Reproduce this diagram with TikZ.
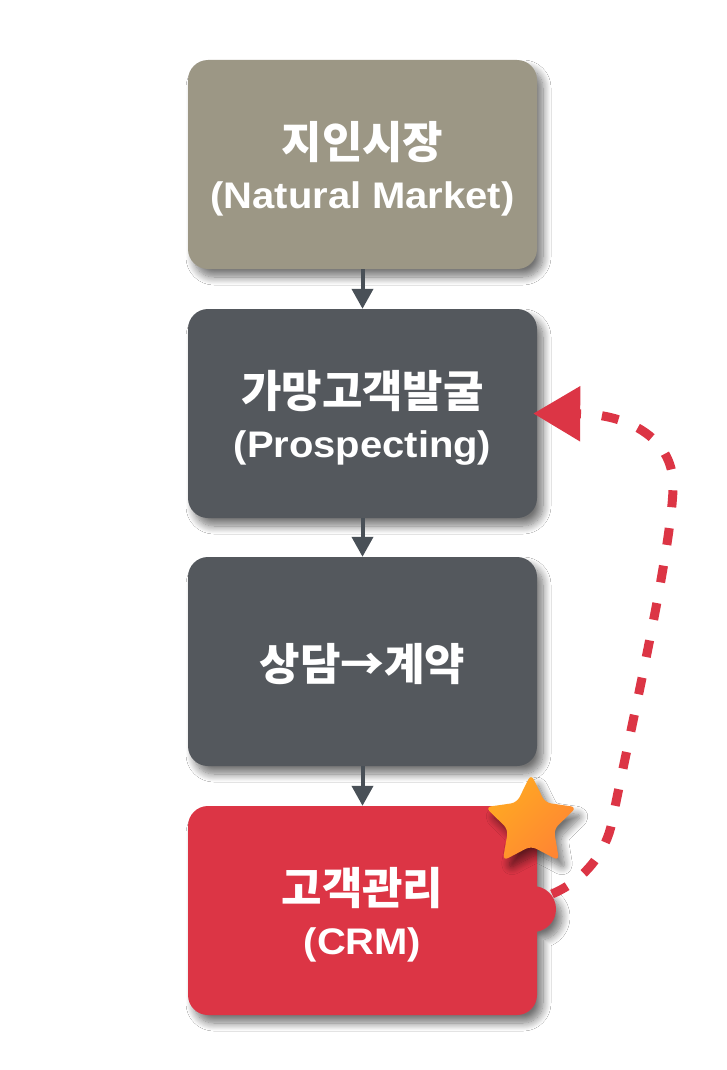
\documentclass[tikz,border=0pt]{standalone}
\usepackage{fontspec}
\newfontfamily\kr{Noto Sans CJK KR}
\newfontfamily\en{Liberation Sans}[FakeStretch=1.08]
\usetikzlibrary{arrows.meta,shadows.blur}
\definecolor{natcol}{HTML}{9C9785}
\definecolor{darkbox}{HTML}{54585D}
\definecolor{crmred}{HTML}{DC3545}
\definecolor{conncol}{HTML}{495057}
\definecolor{starA}{HTML}{FFAA22}
\definecolor{starB}{HTML}{FF8533}
\tikzset{
  myshadow/.style={blur shadow={shadow xshift=6pt, shadow yshift=-8pt, shadow blur radius=8pt, shadow blur steps=12, shadow opacity=55}},
  boxnode/.style={rectangle, rounded corners=20pt, minimum width=349pt, minimum height=209pt, inner sep=0pt, myshadow},
  ghost/.style={rectangle, minimum width=349pt, minimum height=209pt, inner sep=0pt},
  txt/.style={text=white, align=center, inner sep=0pt, font=\fontsize{37}{50}\selectfont},
  conn/.style={draw=conncol, line width=4pt, -{Triangle[length=20pt,width=21pt]}},
  loop/.style={draw=crmred, line width=9pt, dash pattern=on 17pt off 21pt, -{Triangle[length=47pt,width=53pt]}, fill=none}
}
\begin{document}
\begin{tikzpicture}[x=1pt,y=-1pt]
\useasboundingbox (0,0) rectangle (727,1070);
\fill[white] (0,0) rectangle (727,1070);
% boxes
\node[boxnode, fill=natcol] (nat) at (362.5,164.5) {};
\node[boxnode, fill=darkbox] (prosp) at (362.5,413.5) {};
\node[boxnode, fill=darkbox] (deal) at (362.5,661.5) {};
% CRM box with bump
\fill[crmred, myshadow] (208,806) -- (517,806) arc[start angle=-90, end angle=0, radius=20]
  -- (537,886.35) arc[start angle=-80, end angle=80, radius=23]
  -- (537,995) arc[start angle=0, end angle=90, radius=20]
  -- (208,1015) arc[start angle=90, end angle=180, radius=20]
  -- (188,826) arc[start angle=180, end angle=270, radius=20] -- cycle;
\node[ghost] (crm) at (362.5,910.5) {};
\coordinate (bump) at (552,894);
% texts
\node[txt] (nat-t) at (362.5,169) {{\kr\bfseries\fontsize{44}{50}\selectfont 지인시장}\\{\en\bfseries (Natural Market)}};
\node[txt] (prosp-t) at (362.5,417.5) {{\kr\bfseries\fontsize{44}{50}\selectfont 가망고객발굴}\\{\en\bfseries (Prospecting)}};
\node[txt] (deal-t) at (362.5,664) {{\kr\bfseries\fontsize{44}{50}\selectfont 상담→계약}};
\node[txt] (crm-t) at (362.5,914.5) {{\kr\bfseries\fontsize{44}{50}\selectfont 고객관리}\\{\en\bfseries (CRM)}};
% connectors
\draw[conn] (nat.south) -- (prosp.north);
\draw[conn] (prosp.south) -- (deal.north);
\draw[conn] (deal.south) -- (crm.north);
\draw[loop] (bump) .. controls (585,880) and (606,852) .. (612,822)
  .. controls (627,745) and (670,560) .. (673,490)
  .. controls (676,440) and (630,414) .. ([xshift=-4pt]prosp.east);
% star
\begin{scope}[shift={(531,822)}]
\shade[top color=starA, bottom color=starB, shading angle=45, rounded corners=6pt, myshadow]
  (-90:48) -- (-54:24) -- (-18:48) -- (18:24) -- (54:48) -- (90:24)
  -- (126:48) -- (162:24) -- (198:48) -- (234:24) -- cycle;
\end{scope}
\end{tikzpicture}
\end{document}
